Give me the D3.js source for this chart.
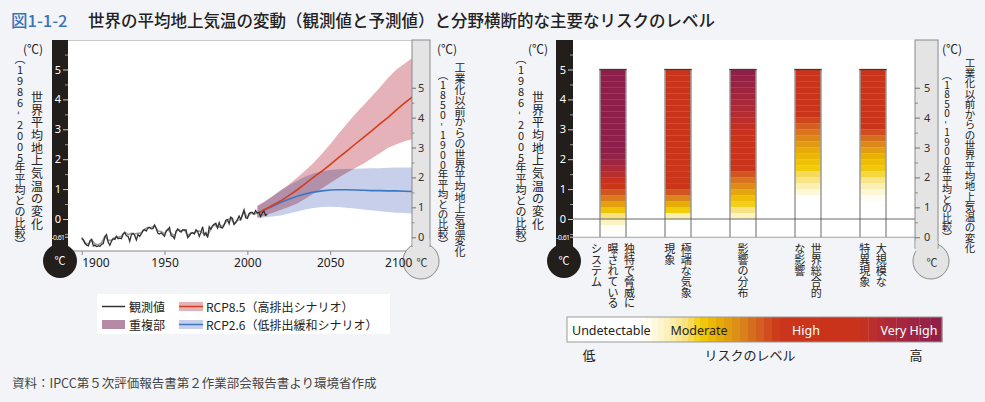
<!DOCTYPE html>
<html><head><meta charset="utf-8">
<script src="https://cdn.jsdelivr.net/npm/d3@7"></script>
<style>
html,body{margin:0;padding:0;background:#f3f4f8;}
svg{display:block;}
text{font-family:"Noto Sans CJK JP","Noto Sans",sans-serif;}
</style></head><body>
<svg id="c" width="985" height="402"></svg>
<script>
// ---------------- DATA ----------------
const titleFig = "図1-1-2";
const titleText = "世界の平均地上気温の変動（観測値と予測値）と分野横断的な主要なリスクのレベル";
const sourceText = "資料：IPCC第５次評価報告書第２作業部会報告書より環境省作成";

const obsStartYear = 1900;
const observed = [
 -0.65,-0.70,-0.82,-0.88,-0.90,-0.72,-0.68,-0.90,-0.88,-0.92,
 -0.90,-0.91,-0.85,-0.82,-0.60,-0.52,-0.78,-0.88,-0.74,-0.66,
 -0.68,-0.58,-0.66,-0.64,-0.66,-0.50,-0.46,-0.56,-0.58,-0.74,
 -0.52,-0.48,-0.55,-0.70,-0.52,-0.58,-0.50,-0.38,-0.36,-0.40,
 -0.30,-0.28,-0.33,-0.32,-0.20,-0.32,-0.48,-0.50,-0.46,-0.52,
 -0.58,-0.40,-0.36,-0.28,-0.56,-0.58,-0.66,-0.40,-0.34,-0.40,
 -0.44,-0.36,-0.38,-0.36,-0.62,-0.56,-0.48,-0.46,-0.50,-0.36,
 -0.42,-0.58,-0.44,-0.26,-0.54,-0.46,-0.62,-0.26,-0.34,-0.22,
 -0.18,-0.14,-0.30,-0.12,-0.28,-0.30,-0.20,-0.04,-0.02,-0.16,
  0.06, 0.02,-0.18,-0.12,-0.02, 0.10,-0.02, 0.14, 0.30, 0.04,
  0.02, 0.18, 0.22, 0.22, 0.16, 0.28, 0.20, 0.22, 0.08, 0.20,
  0.26, 0.12, 0.16
];
const observedAltYears = [1900,1902,1904,1906,1908,1910,1912,1914,1916,1918,1920,1922,1924,1926,1928,1930,1932,1934,1936,1938,1940,1942,1944,1946,1948,1950,1952,1954,1956,1958,1960,1962,1964,1966,1968,1970,1972,1974,1976,1978,1980,1982,1984,1986,1988,1990,1992,1994,1996,1998,2000,2002,2004,2006,2008,2010,2012];
const observedAlt = [-0.62,-0.78,-0.86,-0.70,-0.84,-0.86,-0.80,-0.58,-0.72,-0.70,-0.62,-0.60,-0.58,-0.44,-0.52,-0.48,-0.50,-0.48,-0.46,-0.34,-0.28,-0.30,-0.22,-0.40,-0.42,-0.50,-0.34,-0.48,-0.56,-0.34,-0.40,-0.36,-0.56,-0.46,-0.46,-0.40,-0.42,-0.50,-0.56,-0.32,-0.18,-0.28,-0.26,-0.18,-0.04,0.04,-0.16,-0.04,-0.02,0.26,0.04,0.20,0.16,0.20,0.10,0.24,0.14];

const projYears = [2006,2010,2015,2020,2025,2030,2035,2040,2045,2050,2055,2060,2065,2070,2075,2080,2085,2090,2095,2100];
const rcp85Mean = [0.18,0.30,0.45,0.60,0.78,0.97,1.18,1.40,1.60,1.82,2.05,2.27,2.50,2.72,2.95,3.18,3.40,3.65,3.88,4.10];
const rcp85Low  = [0.05,0.10,0.20,0.30,0.40,0.52,0.68,0.85,1.02,1.20,1.38,1.55,1.70,1.85,2.02,2.20,2.38,2.50,2.60,2.68];
const rcp85High = [0.45,0.58,0.75,0.95,1.15,1.38,1.62,1.88,2.18,2.50,2.85,3.18,3.50,3.80,4.10,4.40,4.72,5.00,5.20,5.40];
const rcp26Mean = [0.18,0.30,0.42,0.55,0.66,0.76,0.84,0.90,0.94,0.97,0.98,0.98,0.97,0.96,0.95,0.95,0.94,0.94,0.93,0.92];
const rcp26Low  = [0.03,0.05,0.08,0.12,0.18,0.25,0.32,0.37,0.40,0.41,0.40,0.38,0.35,0.32,0.29,0.26,0.23,0.21,0.20,0.18];
const rcp26High = [0.42,0.55,0.75,0.95,1.12,1.28,1.42,1.52,1.60,1.64,1.66,1.67,1.68,1.69,1.70,1.70,1.71,1.72,1.72,1.72];

const xTicks = [1900,1950,2000,2050,2100];
const tempTicks = [0,1,2,3,4,5];
const tempMinorTicks = [-0.5,0.5,1.5,2.5,3.5,4.5,5.5];
const baselineOffset = 0.61;   // 1986-2005 vs 1850-1900
const preIndTicks = [0,1,2,3,4,5];
const preIndMinorTicks = [0.5,1.5,2.5,3.5,4.5];

const legendItems = ["観測値","重複部","RCP8.5（高排出シナリオ）","RCP2.6（低排出緩和シナリオ）"];

const categories = ["独特で脅威に曝されているシステム","極端な気象現象","影響の分布","世界総合的な影響","大規模な特異現象"];
const categoryColumns = [
  ["独特で脅威に","曝されている","システム"],
  ["極端な気象","現象"],
  ["影響の分布"],
  ["世界総合的","な影響"],
  ["大規模な","特異現象"]
];
// risk level (0 undetectable, 1 moderate, 2 high, 3 very high) at temperature (°C, vs 1986-2005)
const riskProfiles = [
  [[-0.61,0],[-0.35,0],[-0.05,0.5],[0.25,1.0],[0.55,1.4],[0.8,1.7],[1.1,2.0],[1.5,2.4],[2.0,2.8],[2.2,3.0],[5,3.0]],
  [[-0.61,0],[-0.05,0],[0.05,0.4],[0.3,1.0],[0.55,1.3],[0.75,1.6],[1.05,2.0],[5,2.1]],
  [[-0.61,0],[-0.05,0],[0.1,0.4],[0.4,0.9],[0.7,1.1],[1.0,1.4],[1.4,1.7],[1.75,2.05],[2.9,2.2],[3.5,2.45],[4.2,2.7],[5,3.0]],
  [[-0.61,0],[0.7,0],[0.9,0.3],[1.3,0.7],[1.7,1.0],[2.2,1.2],[2.7,1.5],[3.1,1.75],[3.5,2.05],[5,2.1]],
  [[-0.61,0],[0.6,0],[0.9,0.3],[1.3,0.7],[1.6,1.0],[2.1,1.2],[2.5,1.5],[2.8,1.75],[3.1,2.05],[5,2.1]]
];
const riskColorLevels = [0,0.2,0.5,0.8,1.0,1.2,1.4,1.6,1.8,2.0,2.2,2.5,2.8,3.0];
const riskColors = ["#ffffff","#fffbe6","#fbefb4","#f6df74","#f2cc0a","#e9b203","#df9716","#d8781c","#d15520","#ca361a","#c8321c","#b02a36","#9a2343","#8e1f4a"];
const riskLegendLabels = ["Undetectable","Moderate","High","Very High"];
const riskAxisLabels = ["低","リスクのレベル","高"];

const unitLabel = "(℃)";
const leftAxisTitle = "世界平均地上気温の変化";
const leftAxisSub = "（1986-2005年平均との比較）";
const rightAxisTitleA = "工業化以前からの世界平均地上気温変化";
const rightAxisTitleB = "工業化以前からの世界平均地上気温の変化";
const rightAxisSub = "（1850-1900年平均との比較）";

// ---------------- DRAW ----------------
const svg = d3.select("#c");
svg.append("rect").attr("width",985).attr("height",402).attr("fill","#f3f4f8");

// title
svg.append("text").attr("x",11).attr("y",27).attr("fill","#3b73ba").style("font-size","16.5px").style("font-weight",500).text(titleFig);
svg.append("text").attr("x",88).attr("y",27).attr("fill","#222").style("font-size","16.5px").style("font-weight",500).text(titleText);
svg.append("text").attr("x",12).attr("y",382).attr("dominant-baseline","central").attr("fill","#444").style("font-size","12.5px").text(sourceText);

// vertical text column, one glyph per cell
function vcol(g, str, x, y0, step, size, fill) {
  Array.from(str).forEach((ch, i) => {
    let c = ch, rot = false;
    if (ch === "（") c = "︵";
    else if (ch === "）") c = "︶";
    else if (ch === "-") rot = true;
    const cy = y0 + step * (i + 0.5);
    const t = g.append("text").attr("x", x).attr("y", cy)
      .attr("text-anchor","middle").attr("dominant-baseline","central")
      .style("font-size", size + "px").attr("fill", fill).text(c);
    if (rot) t.attr("transform", `rotate(90 ${x} ${cy})`);
  });
}

const yT = d3.scaleLinear().domain([0,5]).range([219,69.5]);
const yP = d3.scaleLinear().domain([0,5]).range([yT(-baselineOffset), yT(5-baselineOffset)]);

function darkThermo(g, x0, x1, top, cx, cy, r) {
  g.append("rect").attr("x",x0).attr("y",top).attr("width",x1-x0).attr("height",cy-top).attr("fill","#221e1c");
  g.append("circle").attr("cx",cx).attr("cy",cy).attr("r",r).attr("fill","#221e1c");
  g.append("text").attr("x",cx).attr("y",cy-1).attr("text-anchor","middle").attr("dominant-baseline","central").attr("fill","#fff").style("font-size","11px").text("℃");
  const ax = g.append("g").attr("transform",`translate(${x1},0)`)
    .call(d3.axisLeft(yT).tickValues(tempTicks).tickSize(5).tickPadding(2).tickFormat(d3.format("d")));
  ax.select(".domain").remove();
  ax.selectAll("line").attr("stroke","#fff").attr("stroke-width",0.8);
  ax.selectAll("text").attr("fill","#fff").style("font-size","11px").style("font-family","'Noto Sans',sans-serif");
  const mi = g.append("g").attr("transform",`translate(${x1},0)`)
    .call(d3.axisLeft(yT).tickValues(tempMinorTicks).tickSize(3).tickFormat(""));
  mi.select(".domain").remove();
  mi.selectAll("line").attr("stroke","#bbb").attr("stroke-width",0.8);
  g.append("line").attr("x1",x1-3).attr("x2",x1).attr("y1",yT(-baselineOffset)).attr("y2",yT(-baselineOffset)).attr("stroke","#fff").attr("stroke-width",0.8);
  g.append("text").attr("x",x1-3.5).attr("y",yT(-baselineOffset)).attr("text-anchor","end").attr("dominant-baseline","central")
    .attr("fill","#fff").style("font-size","7px").style("letter-spacing","-0.6px").style("font-family","'Noto Sans',sans-serif").text("-0.61");
}

function lightThermo(g, x0, x1, top, cx, cy, r, tickLen, pad) {
  const fill = "#e4e4e4", st = "#8a8a8a";
  const half = Math.min((x1-x0)/2, r-1);
  const yEdge = cy - Math.sqrt(r*r - half*half);
  g.append("circle").attr("cx",cx).attr("cy",cy).attr("r",r).attr("fill",fill).attr("stroke",st).attr("stroke-width",1);
  g.append("rect").attr("x",x0).attr("y",top).attr("width",x1-x0).attr("height",yEdge-top+1).attr("fill",fill).attr("stroke",st).attr("stroke-width",1);
  g.append("rect").attr("x",x0+0.6).attr("y",yEdge-6).attr("width",x1-x0-1.2).attr("height",10).attr("fill",fill);
  g.append("text").attr("x",cx+1).attr("y",cy+1).attr("text-anchor","middle").attr("dominant-baseline","central").attr("fill","#333").style("font-size","11px").text("℃");
  const ax = g.append("g").attr("transform",`translate(${x0},0)`)
    .call(d3.axisRight(yP).tickValues(preIndTicks).tickSize(tickLen).tickPadding(pad).tickFormat(d3.format("d")));
  ax.select(".domain").remove();
  ax.selectAll("line").attr("stroke","#555").attr("stroke-width",0.8);
  ax.selectAll("text").attr("fill","#333").style("font-size","11px").style("font-family","'Noto Sans',sans-serif");
  const mi = g.append("g").attr("transform",`translate(${x0},0)`)
    .call(d3.axisRight(yP).tickValues(preIndMinorTicks).tickSize(tickLen*0.6).tickFormat(""));
  mi.select(".domain").remove();
  mi.selectAll("line").attr("stroke","#777").attr("stroke-width",0.8);
}

// ======== LEFT CHART ========
const L = svg.append("g");
const pL = {x0:68, x1:412, y0:40, y1:251};
L.append("rect").attr("x",pL.x0).attr("y",pL.y0).attr("width",pL.x1-pL.x0).attr("height",pL.y1-pL.y0).attr("fill","#fff");
L.append("line").attr("x1",pL.x0).attr("x2",pL.x1).attr("y1",pL.y0+0.5).attr("y2",pL.y0+0.5).attr("stroke","#c8c8c8");
const xL = d3.scaleLinear().domain([1900,2100]).range([81.7,413]);

svg.append("clipPath").attr("id","clipL").append("rect").attr("x",pL.x0).attr("y",pL.y0).attr("width",pL.x1-pL.x0).attr("height",pL.y1-pL.y0);
const plotL = L.append("g").attr("clip-path","url(#clipL)");

const proj = projYears.map((y,i)=>({y, m85:rcp85Mean[i], l85:rcp85Low[i], h85:rcp85High[i], m26:rcp26Mean[i], l26:rcp26Low[i], h26:rcp26High[i]}));
plotL.append("path").datum(proj).attr("fill","#c7cfea")
  .attr("d", d3.area().x(d=>xL(d.y)).y0(d=>yT(d.l26)).y1(d=>yT(d.h26)));
plotL.append("path").datum(proj).attr("fill","#e6b2b9").style("mix-blend-mode","multiply")
  .attr("d", d3.area().x(d=>xL(d.y)).y0(d=>yT(d.l85)).y1(d=>yT(d.h85)));
plotL.append("path").datum(proj).attr("fill","none").attr("stroke","#3a78c6").attr("stroke-width",1.6)
  .attr("d", d3.line().x(d=>xL(d.y)).y(d=>yT(d.m26)));
plotL.append("path").datum(proj).attr("fill","none").attr("stroke","#d63c1a").attr("stroke-width",1.6)
  .attr("d", d3.line().x(d=>xL(d.y)).y(d=>yT(d.m85)));

const altData = observedAltYears.map((y,i)=>({y, v:observedAlt[i]}));
plotL.append("path").datum(altData).attr("fill","none").attr("stroke","#9a9a9a").attr("stroke-width",1.6)
  .attr("d", d3.line().x(d=>xL(d.y)).y(d=>yT(d.v)));
const obsData = observed.map((v,i)=>({y: obsStartYear+i, v}));
plotL.append("path").datum(obsData).attr("fill","none").attr("stroke","#333").attr("stroke-width",1.3)
  .attr("d", d3.line().x(d=>xL(d.y)).y(d=>yT(d.v)));

L.append("line").attr("x1",pL.x0).attr("x2",pL.x1).attr("y1",pL.y1).attr("y2",pL.y1).attr("stroke","#888");

darkThermo(L, 52, 68, 40, 60, 261, 17);
lightThermo(L, 412, 430, 40, 421, 261, 18, 4, 2);

const xa = L.append("g").attr("transform",`translate(0,${pL.y1})`).call(d3.axisBottom(xL).tickValues(xTicks).tickSize(4).tickPadding(3).tickFormat(d3.format("d")));
xa.select(".domain").remove();
xa.selectAll("line").attr("stroke","#888");
xa.selectAll("line").filter(d=>d===xTicks[xTicks.length-1]).remove();
xa.selectAll("text").attr("fill","#222").style("font-size","12px").style("font-family","'Noto Sans',sans-serif");
xa.selectAll("text").filter(d=>d===xTicks[0]).attr("text-anchor","start");
xa.selectAll("text").filter(d=>d===xTicks[xTicks.length-1]).attr("text-anchor","end").attr("dx",-1);

// axis titles left chart
svg.append("text").attr("x",33).attr("y",48).attr("text-anchor","middle").attr("dominant-baseline","central").attr("fill","#222").style("font-size","12px").text(unitLabel);
vcol(svg, leftAxisSub, 20, 53, 10.9, 11, "#222");
vcol(svg, leftAxisTitle, 37, 90, 12.7, 12, "#222");
svg.append("text").attr("x",447).attr("y",48).attr("text-anchor","middle").attr("dominant-baseline","central").attr("fill","#222").style("font-size","12px").text(unitLabel);
vcol(svg, rightAxisSub, 443, 70, 9.9, 10.5, "#222");
vcol(svg, rightAxisTitleA, 460, 62, 10.8, 11, "#222");

// legend left
const lg = svg.append("g");
lg.append("rect").attr("x",97).attr("y",294).attr("width",293).attr("height",40).attr("fill","#fff");
lg.append("line").attr("x1",102).attr("x2",125).attr("y1",306.5).attr("y2",306.5).attr("stroke","#333").attr("stroke-width",1.5);
lg.append("rect").attr("x",102).attr("y",320).attr("width",23).attr("height",9).attr("fill","#b58aa7");
lg.append("rect").attr("x",179).attr("y",302).attr("width",24).attr("height",9).attr("fill","#e6b2b9");
lg.append("line").attr("x1",179).attr("x2",203).attr("y1",306.5).attr("y2",306.5).attr("stroke","#d63c1a").attr("stroke-width",1.5);
lg.append("rect").attr("x",179).attr("y",320).attr("width",24).attr("height",9).attr("fill","#c7cfea");
lg.append("line").attr("x1",179).attr("x2",203).attr("y1",324.5).attr("y2",324.5).attr("stroke","#3a78c6").attr("stroke-width",1.5);
[[129,306.5,0],[129,324.5,1],[206,306.5,2],[206,324.5,3]].forEach(([x,y,i])=>{
  lg.append("text").attr("x",x).attr("y",y).attr("dominant-baseline","central").attr("fill","#222").style("font-size","12px").text(legendItems[i]);
});

// ======== RIGHT CHART ========
const R = svg.append("g");
const pR = {x0:573, x1:915, y0:40, y1:yT(-baselineOffset)};
R.append("rect").attr("x",pR.x0).attr("y",pR.y0).attr("width",pR.x1-pR.x0).attr("height",pR.y1-pR.y0).attr("fill","#fff");
const xB = d3.scaleBand().domain(categories).range([580.5,905.5]).paddingInner(0.6).paddingOuter(0.3);
const riskColor = d3.scaleLinear().domain(riskColorLevels).range(riskColors).clamp(true);
const bandEdges = [5,4.8,4.6,4.4,4.2,4.0,3.8,3.6,3.4,3.2,3.0,2.8,2.6,2.4,2.2,2.0,1.8,1.6,1.4,1.2,1.0,0.8,0.6,0.4,0.2,0.0,-0.2,-0.4,-0.61];

categories.forEach((cat, ci) => {
  const lvl = d3.scaleLinear().domain(riskProfiles[ci].map(d=>d[0])).range(riskProfiles[ci].map(d=>d[1])).clamp(true);
  const bx = xB(cat), bw = xB.bandwidth();
  const cells = bandEdges.slice(0,-1).map((t,i)=>({top:t, bot:bandEdges[i+1]}));
  R.selectAll(null).data(cells).enter().append("rect")
    .attr("x",bx).attr("width",bw)
    .attr("y",d=>yT(d.top)).attr("height",d=>yT(d.bot)-yT(d.top)+0.3)
    .attr("fill",d=>riskColor(lvl((d.top+d.bot)/2)));
  R.append("line").attr("x1",bx).attr("x2",bx).attr("y1",yT(5)).attr("y2",pR.y1).attr("stroke","#9a9a9a").attr("stroke-width",1.5);
  R.append("line").attr("x1",bx+bw).attr("x2",bx+bw).attr("y1",yT(5)).attr("y2",pR.y1).attr("stroke","#9a9a9a").attr("stroke-width",1.5);
  R.append("line").attr("x1",bx-0.7).attr("x2",bx+bw+0.7).attr("y1",yT(5)).attr("y2",yT(5)).attr("stroke","#4a3535").attr("stroke-width",1.3);
  const cols = categoryColumns[ci];
  const cx = bx + bw/2;
  cols.forEach((s,k)=>{
    const x = cx - (k - (cols.length-1)/2) * 16.5;
    vcol(svg, s, x, 243, 10.8, 11, "#222");
  });
});
R.append("line").attr("x1",pR.x0).attr("x2",pR.x1).attr("y1",yT(0)).attr("y2",yT(0)).attr("stroke","#555").attr("stroke-width",0.9);
R.append("line").attr("x1",pR.x0).attr("x2",pR.x1).attr("y1",pR.y1).attr("y2",pR.y1).attr("stroke","#999").attr("stroke-width",0.9);

darkThermo(R, 556, 573, 40, 564, 261, 17);
lightThermo(R, 915, 938, 40, 931, 261, 18, 5, 4);

svg.append("text").attr("x",538).attr("y",48).attr("text-anchor","middle").attr("dominant-baseline","central").attr("fill","#222").style("font-size","12px").text(unitLabel);
vcol(svg, leftAxisSub, 521, 53, 10.9, 11, "#222");
vcol(svg, leftAxisTitle, 538, 90, 12.7, 12, "#222");
svg.append("text").attr("x",952).attr("y",48).attr("text-anchor","middle").attr("dominant-baseline","central").attr("fill","#222").style("font-size","12px").text(unitLabel);
vcol(svg, rightAxisSub, 947, 70, 9.5, 10, "#222");
vcol(svg, rightAxisTitleB, 970, 57, 10.3, 10.5, "#222");

// risk legend bar
const lx = d3.scaleLinear().domain([-0.4,0,1,2,2.2,2.5,3]).range([567,640,700,780,860,885,942]);
const legCells = [];
for (let i=0;i<34;i++){ legCells.push({a:-0.4+i*0.1, b:-0.4+(i+1)*0.1}); }
const rl = svg.append("g");
rl.selectAll(null).data(legCells).enter().append("rect")
  .attr("x",d=>lx(d.a)).attr("width",d=>lx(d.b)-lx(d.a)+0.3).attr("y",317).attr("height",25)
  .attr("fill",d=>riskColor(Math.max(0,(d.a+d.b)/2)));
rl.append("rect").attr("x",567).attr("y",317).attr("width",375).attr("height",25).attr("fill","none").attr("stroke","#999");
const legPos = [[572,"start","#222"],[699,"middle","#222"],[806,"middle","#fff"],[909,"middle","#fff"]];
riskLegendLabels.forEach((t,i)=>{
  rl.append("text").attr("x",legPos[i][0]).attr("y",330).attr("text-anchor",legPos[i][1]).attr("dominant-baseline","central")
    .attr("fill",legPos[i][2]).style("font-size","12.5px").style("font-family","'Noto Sans',sans-serif").text(t);
});
[[589],[750],[916]].forEach(([x],i)=>{
  rl.append("text").attr("x",x).attr("y",354).attr("text-anchor","middle").attr("dominant-baseline","central").attr("fill","#222").style("font-size","13px").text(riskAxisLabels[i]);
});
</script>
</body></html>
